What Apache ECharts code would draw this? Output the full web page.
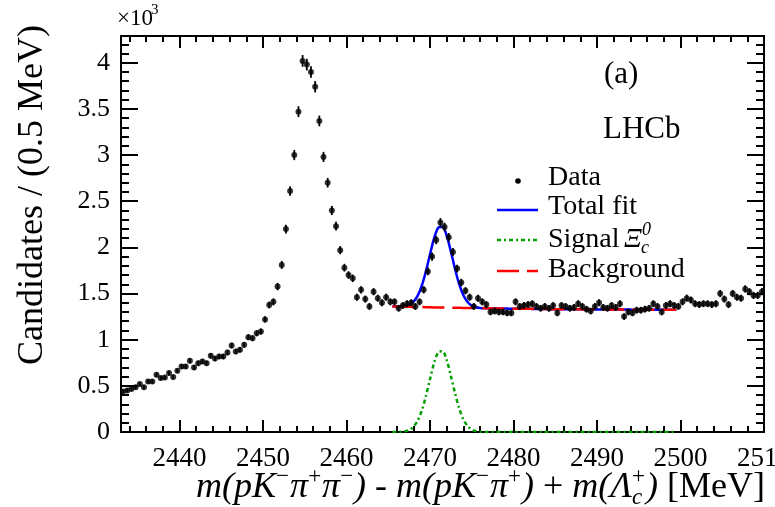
<!DOCTYPE html>
<html>
<head>
<meta charset="utf-8">
<script src="https://cdn.jsdelivr.net/npm/echarts@6/dist/echarts.min.js"></script>
<style>
  html, body { margin: 0; padding: 0; background: #fff; }
  #main { width: 775px; height: 507px; }
</style>
</head>
<body>
<div id="main"></div>
<script>
// histogram, 0.5 MeV bins starting at 2433 MeV, values in units of 10^3 candidates
const binStart = 2433
const binWidth = 0.5
const candidates = [
  0.44, 0.45, 0.465, 0.486, 0.519, 0.486, 0.547, 0.547, 0.619, 0.584,
  0.59, 0.638, 0.595, 0.663, 0.71, 0.71, 0.771, 0.699, 0.746, 0.764,
  0.746, 0.825, 0.796, 0.818, 0.818, 0.861, 0.937, 0.872, 0.89, 0.944,
  1.027, 1.016, 1.07, 1.088, 1.22, 1.376, 1.41, 1.575, 1.81, 2.198,
  2.61, 3.00, 3.47, 4.02, 3.98, 3.90, 3.74, 3.37, 2.98, 2.70,
  2.40, 2.23, 1.97, 1.78, 1.70, 1.665, 1.46, 1.54, 1.44, 1.36,
  1.52, 1.45, 1.40, 1.46, 1.41, 1.41, 1.34, 1.37, 1.39, 1.40,
  1.36, 1.41, 1.54, 1.74, 1.90, 2.08, 2.27, 2.22, 2.11, 1.95,
  1.77, 1.62, 1.53, 1.46, 1.36, 1.45, 1.41, 1.38, 1.30, 1.31,
  1.30, 1.30, 1.29, 1.29, 1.41, 1.36, 1.37, 1.38, 1.39, 1.36,
  1.34, 1.36, 1.34, 1.37, 1.29, 1.37, 1.36, 1.34, 1.35, 1.39,
  1.36, 1.33, 1.31, 1.36, 1.40, 1.35, 1.34, 1.37, 1.35, 1.39,
  1.25, 1.30, 1.29, 1.32, 1.32, 1.33, 1.34, 1.39, 1.36, 1.30,
  1.37, 1.39, 1.37, 1.36, 1.41, 1.45, 1.43, 1.39, 1.38, 1.39,
  1.39, 1.38, 1.39, 1.50, 1.44, 1.38, 1.50, 1.46, 1.45, 1.55,
  1.52, 1.48, 1.48, 1.52
]

// fit components, read every 0.5 MeV from 2465.5 to 2499.5 MeV
const fitStart = 2465.5
const fitStep = 0.5
const backgroundFit = [
  1.360, 1.359, 1.358, 1.357, 1.356, 1.355, 1.354, 1.353, 1.352, 1.351,
  1.350, 1.349, 1.348, 1.347, 1.347, 1.346, 1.345, 1.344, 1.343, 1.343,
  1.342, 1.341, 1.340, 1.340, 1.339, 1.338, 1.338, 1.337, 1.336, 1.336,
  1.335, 1.335, 1.334, 1.334, 1.333, 1.333, 1.332, 1.332, 1.331, 1.331,
  1.331, 1.330, 1.330, 1.329, 1.329, 1.329, 1.328, 1.328, 1.328, 1.327,
  1.327, 1.327, 1.327, 1.326, 1.326, 1.326, 1.326, 1.326, 1.325, 1.325,
  1.325, 1.325, 1.325, 1.325, 1.325, 1.325, 1.325, 1.325, 1.325
]
const signalFit = [
  0.000, 0.001, 0.002, 0.008, 0.022, 0.054, 0.118, 0.226, 0.384, 0.572,
  0.750, 0.865, 0.875, 0.780, 0.610, 0.420, 0.256, 0.137, 0.065, 0.026,
  0.010, 0.003, 0.001, 0, 0, 0, 0, 0, 0, 0,
  0, 0, 0, 0, 0, 0, 0, 0, 0, 0,
  0, 0, 0, 0, 0, 0, 0, 0, 0, 0,
  0, 0, 0, 0, 0, 0, 0, 0, 0, 0,
  0, 0, 0, 0, 0, 0, 0, 0, 0
]

// axes
const xMin = 2433
const xMax = 2510
const yMax = 4.29
const xMajorTicks = [2440, 2450, 2460, 2470, 2480, 2490, 2500, 2510]
const yMajorTicks = [0, 0.5, 1, 1.5, 2, 2.5, 3, 3.5, 4]

const xMinorTicks = []
for (let v = 2434; v < xMax; v += 2) {
  if (v % 10 !== 0) xMinorTicks.push(v)
}
const yMinorTicks = []
for (let k = 1; k <= 42; k++) {
  if (k % 5 !== 0) yMinorTicks.push(k / 10)
}

const serif = '"Liberation Serif", "DejaVu Serif", serif'

// data points and poisson error bars
const points = candidates.map((v, i) => [binStart + binWidth * (i + 0.5), v])
const errorBars = candidates.map((v, i) => {
  const e = Math.sqrt(v * 1000) / 1000
  return [binStart + binWidth * (i + 0.5), v - e, v + e]
})
const fitX = backgroundFit.map((b, i) => fitStart + fitStep * i)
const bkgLine = backgroundFit.map((b, i) => [fitX[i], b])
const sigLine = signalFit.map((s, i) => [fitX[i], s])
const totalLine = backgroundFit.map((b, i) => [fitX[i], b + signalFit[i]])

// x axis title laid out piece by piece (super/subscripts)
const measureCtx = document.createElement('canvas').getContext('2d')
function textWidth(str, size, italic) {
  measureCtx.font = (italic ? 'italic ' : '') + size + 'px ' + serif
  return measureCtx.measureText(str).width
}

function layoutTitle(pieces, rightX, midY, size) {
  const small = Math.round(size * 0.64)
  let widths = pieces.map(p => {
    if (p.t !== undefined) return textWidth(p.t, size, p.it)
    let w = 0
    if (p.sup) w = Math.max(w, textWidth(p.sup, small, p.supIt))
    if (p.sub) w = Math.max(w, textWidth(p.sub, small, p.subIt))
    return w + 1
  })
  const total = widths.reduce((a, b) => a + b, 0)
  let x = rightX - total
  const out = []
  pieces.forEach((p, i) => {
    if (p.t !== undefined) {
      out.push({ type: 'text', x: x, y: midY, style: { text: p.t, fontSize: size, fontFamily: serif, fontStyle: p.it ? 'italic' : 'normal', fill: '#000', textVerticalAlign: 'middle' } })
    } else {
      if (p.sup) out.push({ type: 'text', x: x, y: midY - size * 0.30, style: { text: p.sup, fontSize: small, fontFamily: serif, fontStyle: p.supIt ? 'italic' : 'normal', fill: '#000', textVerticalAlign: 'middle' } })
      if (p.sub) out.push({ type: 'text', x: x, y: midY + size * 0.28, style: { text: p.sub, fontSize: small, fontFamily: serif, fontStyle: p.subIt ? 'italic' : 'normal', fill: '#000', textVerticalAlign: 'middle' } })
    }
    x += widths[i]
  })
  return out
}

const xTitle = layoutTitle([
  { t: 'm(pK', it: true }, { sup: '\u2212' }, { t: '\u03c0', it: true }, { sup: '+' },
  { t: '\u03c0', it: true }, { sup: '\u2212' }, { t: ')', it: true },
  { t: ' - ' },
  { t: 'm(pK', it: true }, { sup: '\u2212' }, { t: '\u03c0', it: true }, { sup: '+' }, { t: ')', it: true },
  { t: ' + ' },
  { t: 'm(\u039b', it: true }, { sup: '+', sub: 'c', subIt: true }, { t: ')', it: true },
  { t: ' [MeV]' }
], 765, 488, 36)

function legendText(text, y) {
  return { type: 'text', x: 548, y: y, style: { text: text, fontSize: 28, fontFamily: serif, fill: '#000', textVerticalAlign: 'middle' } }
}

const graphics = [
  // y axis title
  { type: 'text', x: 33, y: 195, rotation: Math.PI / 2, style: { text: 'Candidates / (0.5 MeV)', fontSize: 36, fontFamily: serif, fill: '#000', textAlign: 'center', textVerticalAlign: 'middle' } },
  // x10^3 multiplier
  { type: 'text', x: 117, y: 19, style: { text: '\u00d710', fontSize: 23, fontFamily: serif, fill: '#000', textVerticalAlign: 'middle' } },
  { type: 'text', x: 151, y: 10, style: { text: '3', fontSize: 15, fontFamily: serif, fill: '#000', textVerticalAlign: 'middle' } },
  // labels
  { type: 'text', x: 604, y: 75, style: { text: '(a)', fontSize: 31, fontFamily: serif, fill: '#000', textVerticalAlign: 'middle' } },
  { type: 'text', x: 603, y: 130, style: { text: 'LHCb', fontSize: 31, fontFamily: serif, fill: '#000', textVerticalAlign: 'middle' } },
  // legend
  { type: 'circle', shape: { cx: 518, cy: 181, r: 2.8 }, style: { fill: '#000' } },
  { type: 'line', shape: { x1: 497, y1: 210, x2: 538, y2: 210 }, style: { stroke: '#0000ff', lineWidth: 2.5 } },
  { type: 'line', shape: { x1: 497, y1: 240, x2: 538, y2: 240 }, style: { stroke: '#00a000', lineWidth: 2.5, lineDash: [4, 3, 2, 3] } },
  { type: 'line', shape: { x1: 497, y1: 271, x2: 538, y2: 271 }, style: { stroke: '#ff0000', lineWidth: 2.5, lineDash: [22, 8] } },
  legendText('Data', 178),
  legendText('Total fit', 207),
  legendText('Signal', 240),
  { type: 'text', x: 624, y: 240, style: { text: '\u039e', fontSize: 28, fontFamily: serif, fontStyle: 'italic', fill: '#000', textVerticalAlign: 'middle' } },
  { type: 'text', x: 642, y: 230, style: { text: '0', fontSize: 18, fontFamily: serif, fontStyle: 'italic', fill: '#000', textVerticalAlign: 'middle' } },
  { type: 'text', x: 641, y: 248, style: { text: 'c', fontSize: 18, fontFamily: serif, fontStyle: 'italic', fill: '#000', textVerticalAlign: 'middle' } },
  legendText('Background', 270)
].concat(xTitle)

const black = { color: '#000', width: 2 }

function xAxisDef(position, ticks, len, labels) {
  return {
    type: 'value', min: xMin, max: xMax, position: position,
    axisLine: { show: true, onZero: false, lineStyle: black },
    axisTick: { show: true, inside: true, length: len, customValues: ticks, lineStyle: black },
    axisLabel: labels
      ? { show: true, customValues: ticks, formatter: v => String(v), fontSize: 27, fontFamily: serif, color: '#000', margin: 13 }
      : { show: false },
    splitLine: { show: false }
  }
}
function yAxisDef(position, ticks, len, labels) {
  return {
    type: 'value', min: 0, max: yMax, position: position,
    axisLine: { show: true, onZero: false, lineStyle: black },
    axisTick: { show: true, inside: true, length: len, customValues: ticks, lineStyle: black },
    axisLabel: labels
      ? { show: true, customValues: ticks, fontSize: 26, fontFamily: serif, color: '#000', margin: 11 }
      : { show: false },
    splitLine: { show: false }
  }
}

const chart = echarts.init(document.getElementById('main'), null, { renderer: 'canvas' })
chart.setOption({
  animation: false,
  backgroundColor: '#fff',
  grid: { left: 121, right: 11, top: 36, bottom: 75, containLabel: false, outerBoundsMode: 'none' },
  xAxis: [
    xAxisDef('bottom', xMajorTicks, 12, true),
    xAxisDef('bottom', xMinorTicks, 6, false),
    xAxisDef('top', xMajorTicks, 12, false),
    xAxisDef('top', xMinorTicks, 6, false)
  ],
  yAxis: [
    yAxisDef('left', yMajorTicks, 17, true),
    yAxisDef('left', yMinorTicks, 8, false),
    yAxisDef('right', yMajorTicks, 17, false),
    yAxisDef('right', yMinorTicks, 8, false)
  ],
  graphic: graphics,
  series: [
    {
      name: 'Total fit', type: 'line', data: totalLine, showSymbol: false, symbol: 'none',
      smooth: 0.3, lineStyle: { color: '#0000ff', width: 2.5 }, z: 2
    },
    {
      name: 'Background', type: 'line', data: bkgLine, showSymbol: false, symbol: 'none',
      lineStyle: { color: '#ff0000', width: 2.5, type: [22, 8] }, z: 3
    },
    {
      name: 'Signal', type: 'line', data: sigLine, showSymbol: false, symbol: 'none',
      smooth: 0.3, lineStyle: { color: '#00a000', width: 2.5, type: [4, 3, 2, 3] }, z: 3
    },
    {
      name: 'Errors', type: 'custom', data: errorBars, z: 4, clip: true,
      encode: { x: 0, y: [1, 2] },
      renderItem: function (params, api) {
        const lo = api.coord([api.value(0), api.value(1)])
        const hi = api.coord([api.value(0), api.value(2)])
        return { type: 'line', shape: { x1: lo[0], y1: lo[1], x2: hi[0], y2: hi[1] }, style: { stroke: '#000', lineWidth: 1.8 } }
      }
    },
    {
      name: 'Data', type: 'scatter', data: points, symbol: 'circle', symbolSize: 6,
      itemStyle: { color: '#000' }, z: 5
    }
  ]
})
</script>
</body>
</html>
